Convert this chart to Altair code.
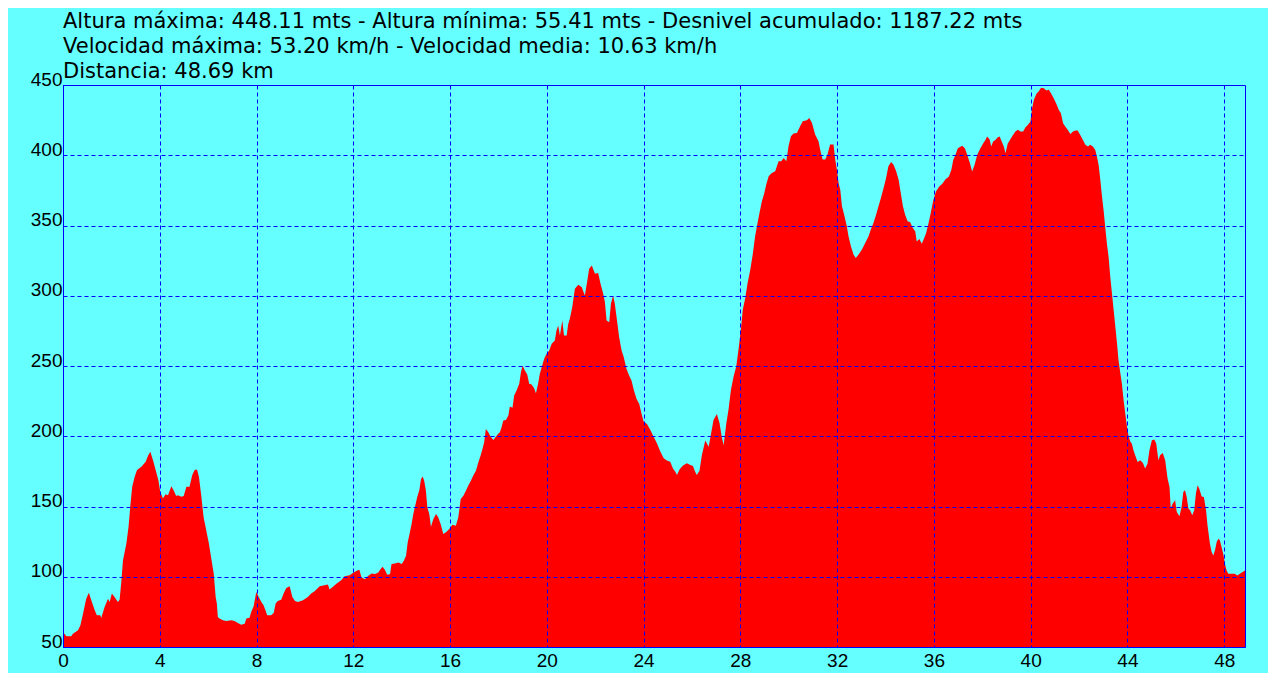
import altair as alt
import pandas as pd

title_lines = [
    "Altura máxima: 448.11 mts - Altura mínima: 55.41 mts - Desnivel acumulado: 1187.22 mts",
    "Velocidad máxima: 53.20 km/h - Velocidad media: 10.63 km/h",
    "Distancia: 48.69 km",
]

distance_km = [
    0.00, 0.14, 0.34, 0.41, 0.62, 0.72, 0.83, 0.96, 1.07, 1.17, 1.31, 1.40, 1.54, 1.58, 1.72, 1.86,
    1.93, 2.02, 2.13, 2.27, 2.34, 2.41, 2.48, 2.62, 2.71, 2.78, 2.86, 2.96, 3.06, 3.24, 3.42, 3.51,
    3.61, 3.72, 3.83, 3.94, 4.02, 4.13, 4.24, 4.34, 4.48, 4.57, 4.68, 4.75, 4.89, 4.99, 5.10, 5.23,
    5.34, 5.44, 5.54, 5.62, 5.72, 5.81, 5.92, 6.03, 6.13, 6.23, 6.31, 6.36, 6.40, 6.47, 6.61, 6.75,
    6.96, 7.09, 7.23, 7.37, 7.51, 7.58, 7.71, 7.78, 7.88, 7.99, 8.09, 8.20, 8.29, 8.37, 8.44, 8.60,
    8.71, 8.79, 8.88, 9.02, 9.12, 9.23, 9.37, 9.48, 9.59, 9.71, 9.92, 10.12, 10.26, 10.40, 10.61, 10.81,
    10.95, 11.02, 11.16, 11.30, 11.50, 11.64, 11.85, 11.98,
    12.14, 12.25, 12.34, 12.48, 12.62, 12.76, 12.90, 13.03, 13.13, 13.21, 13.31, 13.40, 13.52, 13.58,
    13.72, 13.86, 14.00, 14.09, 14.18, 14.25, 14.34, 14.41, 14.48, 14.56, 14.64, 14.73, 14.80, 14.87,
    14.93, 15.00, 15.06, 15.14, 15.21, 15.31, 15.42, 15.51, 15.61, 15.72, 15.83, 15.97, 16.10, 16.24,
    16.34, 16.44, 16.55, 16.66, 16.75, 16.86, 16.96, 17.07, 17.17, 17.26, 17.34, 17.41, 17.48, 17.58,
    17.67, 17.79, 17.90, 17.99, 18.06, 18.13, 18.20, 18.31, 18.41, 18.47, 18.58, 18.65, 18.75, 18.86,
    18.93, 19.00, 19.09, 19.19, 19.27, 19.37, 19.47, 19.55, 19.64, 19.71, 19.81, 19.89, 19.99, 20.10,
    20.20, 20.33, 20.40, 20.47, 20.54, 20.64, 20.71, 20.82, 20.88, 20.95, 21.05, 21.16, 21.30, 21.44,
    21.57, 21.67, 21.75, 21.86, 21.99, 22.12, 22.22, 22.33, 22.40, 22.47, 22.58, 22.65, 22.74, 22.81,
    22.91, 22.99, 23.09, 23.18, 23.29, 23.40, 23.50, 23.60, 23.71, 23.82,
    23.93, 24.00, 24.14, 24.28, 24.41, 24.55, 24.69, 24.83, 24.96, 25.10, 25.21, 25.31, 25.38, 25.49,
    25.63, 25.79, 25.93, 26.04, 26.13, 26.20, 26.31, 26.41, 26.55, 26.69, 26.78, 26.89, 27.03, 27.14,
    27.24, 27.31, 27.42, 27.51, 27.61, 27.72, 27.83, 27.93, 28.02, 28.10, 28.20, 28.30, 28.41, 28.52,
    28.61, 28.71, 28.79, 28.89, 28.99, 29.07, 29.17, 29.30, 29.44, 29.58, 29.69, 29.79, 29.90, 29.99,
    30.09, 30.20, 30.34, 30.47, 30.58, 30.75, 30.85, 30.96, 31.09, 31.23, 31.30, 31.40, 31.51, 31.60,
    31.71, 31.85, 31.92, 31.99, 32.06, 32.13, 32.20, 32.29, 32.40, 32.47, 32.57, 32.68, 32.77, 32.88,
    33.02, 33.16, 33.30, 33.39, 33.50, 33.61, 33.71, 33.81, 33.92, 34.01, 34.12, 34.23, 34.33, 34.44,
    34.54, 34.63, 34.72, 34.81, 34.91, 35.02, 35.13, 35.23, 35.29, 35.40, 35.50, 35.60, 35.68, 35.78,
    35.87, 35.98, 36.09, 36.23,
    36.34, 36.48, 36.62, 36.72, 36.80, 36.89, 36.99, 37.17, 37.28, 37.38, 37.49, 37.58, 37.68, 37.79,
    37.90, 38.04, 38.13, 38.20, 38.30, 38.37, 38.45, 38.54, 38.64, 38.72, 38.82, 38.89, 38.96, 39.05,
    39.16, 39.27, 39.37, 39.47, 39.58, 39.69, 39.78, 39.88, 39.99, 40.06, 40.13, 40.24, 40.33, 40.43,
    40.54, 40.65, 40.75, 40.84, 40.95, 41.06, 41.16, 41.25, 41.34, 41.43, 41.53, 41.64, 41.75, 41.85,
    41.94, 42.05, 42.16, 42.26, 42.37, 42.46, 42.57, 42.67, 42.74, 42.81, 42.88, 42.95, 43.02, 43.08,
    43.15, 43.22, 43.29, 43.36, 43.43, 43.50, 43.57, 43.63, 43.70, 43.77, 43.84, 43.91, 43.98, 44.05,
    44.12, 44.18, 44.25, 44.32, 44.42, 44.53, 44.64, 44.73, 44.83, 44.91, 45.01, 45.11, 45.19, 45.28,
    45.35, 45.46, 45.56, 45.66, 45.74,
    45.79, 45.87, 45.97, 46.04, 46.15, 46.24, 46.31, 46.38, 46.45, 46.52, 46.59, 46.68, 46.76, 46.83,
    46.90, 46.97, 47.07, 47.16, 47.25, 47.31, 47.41, 47.48, 47.55, 47.62, 47.69, 47.76, 47.82, 47.89,
    47.96, 48.03, 48.10, 48.17, 48.31, 48.44, 48.54, 48.65, 48.76, 48.86,
]

altitude_m = [
    60.7, 57.6, 57.6, 59.5, 61.9, 65.4, 73.8, 84.4, 88.7, 83.3, 76.1, 72.6, 72.6, 70.7, 78.5, 84.4,
    82.0, 88.0, 85.6, 82.0, 83.7, 96.3, 111.8, 123.6, 135.5, 149.8, 164.0, 171.0, 175.9, 178.3, 181.8, 185.9,
    189.0, 183.0, 175.9, 168.8, 160.5, 155.7, 158.8, 158.0, 164.5, 161.6, 157.4, 158.0, 157.0, 157.4, 164.0, 164.0,
    172.3, 175.9, 176.4, 171.0, 157.0, 142.6, 133.1, 123.6, 113.0, 102.3, 85.6, 80.9, 71.4, 70.2, 69.0, 68.5,
    69.0, 68.5, 67.1, 65.9, 66.6, 70.2, 70.9, 74.9, 79.0, 89.2, 85.6, 82.0, 79.7, 76.1, 72.6, 72.6,
    74.2, 80.9, 82.8, 83.7, 88.0, 92.0, 93.2, 85.6, 82.8, 82.0, 83.2, 85.6, 88.0, 89.7, 93.2, 94.0,
    94.4, 90.9, 92.8, 95.1, 97.5, 100.4, 101.1, 102.7,
    104.3, 105.0, 99.5, 98.3, 100.7, 102.4, 101.9, 103.1, 105.5, 107.1, 104.8, 101.4, 101.9, 109.0,
    109.5, 110.2, 109.0, 111.4, 115.0, 124.5, 131.6, 137.5, 144.7, 150.6, 156.5, 161.8, 169.6, 171.3,
    168.4, 161.3, 149.4, 144.7, 135.6, 141.1, 144.7, 142.3, 137.5, 130.4, 131.6, 134.0, 137.1, 136.3,
    142.3, 155.3, 157.7, 161.3, 164.8, 168.4, 172.0, 175.5, 181.5, 186.2, 191.0, 195.7, 205.2, 202.9,
    199.8, 197.4, 199.8, 201.7, 202.9, 206.4, 211.2, 211.6, 214.7, 221.1, 220.2, 229.0, 232.5, 237.3,
    245.6, 250.4, 246.8, 243.9, 237.3, 236.8, 234.4, 230.6, 237.3, 244.4, 250.4, 255.1, 258.7, 261.0,
    265.8, 268.2, 275.3, 278.9, 271.7, 282.4, 271.7, 271.7, 279.6, 283.6, 291.9, 305.0, 307.8, 306.2,
    300.2, 310.4, 319.2, 321.6, 315.7, 316.2, 308.5, 301.4, 295.5, 282.4, 281.2, 294.3, 300.2, 294.3,
    281.2, 270.5, 261.0, 256.3, 248.0, 243.2, 239.7, 232.5, 226.6, 223.0,
    215.0, 210.5, 208.8, 204.5, 199.8, 195.0, 189.1, 184.3, 182.7, 181.9, 177.2, 174.8, 172.4, 176.5,
    179.1, 180.8, 179.6, 178.9, 174.8, 172.4, 175.5, 186.7, 196.9, 192.6, 200.9, 211.6, 215.9, 209.3,
    198.6, 193.8, 209.3, 218.8, 233.0, 242.5, 249.6, 262.7, 275.8, 290.0, 298.3, 309.0, 318.5, 330.4,
    342.3, 351.8, 358.9, 367.2, 373.2, 379.1, 385.0, 387.4, 388.6, 395.7, 395.7, 398.1, 395.7, 406.4,
    413.5, 415.4, 415.9, 420.7, 424.2, 424.9, 426.6, 423.0, 414.7, 410.0, 404.0, 396.9, 396.9, 400.5,
    407.6, 407.6, 396.9, 389.8, 380.3, 375.5, 363.7, 357.7, 349.4, 342.3, 335.2, 329.2, 326.8, 329.2,
    332.8, 337.5, 342.3, 347.0, 351.8, 357.7, 363.7, 369.6, 376.7, 382.7, 392.2, 395.2, 393.3, 388.6,
    382.7, 373.2, 363.7, 357.7, 353.0, 352.3, 348.2, 345.8, 338.7, 340.4, 337.0, 341.1, 344.7, 351.8,
    358.9, 368.4, 374.3, 378.0,
    379.6, 382.9, 384.8, 389.5, 396.7, 400.2, 405.0, 406.7, 405.0, 400.2, 394.3, 388.4, 393.1, 400.2,
    404.3, 408.6, 410.9, 413.3, 411.4, 406.2, 409.7, 410.9, 412.8, 413.3, 409.0, 406.2, 401.4, 408.1,
    411.4, 414.5, 416.9, 418.1, 416.9, 416.9, 419.7, 421.6, 424.0, 433.5, 439.4, 443.7, 445.4, 448.1,
    447.7, 446.1, 446.6, 444.2, 440.6, 436.6, 432.3, 429.9, 422.8, 420.4, 418.1, 415.2, 416.9, 417.6,
    417.6, 414.5, 410.9, 407.4, 406.2, 407.4, 406.2, 403.8, 399.0, 393.1, 382.4, 370.5, 359.9, 349.2,
    337.3, 327.8, 313.5, 301.7, 289.8, 277.9, 266.0, 254.2, 245.8, 237.5, 225.9, 216.2, 206.9, 199.8,
    196.0, 194.8, 190.0, 186.5, 181.7, 182.9, 181.0, 177.0, 180.5, 190.0, 197.1, 197.6, 194.8, 182.9,
    186.5, 188.1, 182.9, 169.9, 163.9,
    148.5, 152.0, 154.4, 146.1, 143.0, 149.6, 160.3, 161.5, 156.8, 148.5, 147.3, 143.7, 147.3, 159.1,
    165.1, 162.7, 157.2, 156.8, 147.3, 136.6, 123.5, 117.6, 115.2, 118.8, 124.7, 127.1, 125.9, 121.1,
    116.4, 109.3, 104.5, 102.1, 102.1, 102.1, 100.9, 102.1, 103.3, 104.5,
]

x_ticks = [0, 4, 8, 12, 16, 20, 24, 28, 32, 36, 40, 44, 48]
y_ticks = [50, 100, 150, 200, 250, 300, 350, 400, 450]

df = pd.DataFrame({"km": distance_km, "alt": altitude_m})

BLUE = "#0000FF"
FONT = "Liberation Sans"
TITLE_FONT = "DejaVu Sans"

chart = (
    alt.Chart(df)
    .mark_area(color="#FF0000", clip=True, interpolate="linear")
    .encode(
        x=alt.X(
            "km:Q",
            scale=alt.Scale(domain=[0, 48.86], nice=False, zero=False),
            axis=alt.Axis(
                values=x_ticks,
                title=None,
                grid=True,
                gridColor=BLUE,
                gridDash=[4, 3],
                gridWidth=1,
                gridOpacity=1,
                ticks=False,
                domainColor=BLUE,
                domainWidth=1,
                labelFont=FONT,
                labelFontSize=19,
                labelColor="black",
                labelPadding=4,
                labelFlush=False,
                labelOverlap=False,
                zindex=1,
            ),
        ),
        y=alt.Y(
            "alt:Q",
            scale=alt.Scale(domain=[50, 450], nice=False, zero=False),
            axis=alt.Axis(
                values=y_ticks,
                title=None,
                grid=True,
                gridColor=BLUE,
                gridDash=[4, 3],
                gridWidth=1,
                gridOpacity=1,
                ticks=False,
                domainColor=BLUE,
                domainWidth=1,
                labelFont=FONT,
                labelFontSize=19,
                labelColor="black",
                labelPadding=1,
                labelBaseline="alphabetic",
                labelFlush=False,
                labelOverlap=False,
                zindex=1,
            ),
        ),
        y2=alt.datum(50),
    )
    .properties(
        width=1182,
        height=562,
        autosize=alt.AutoSizeParams(type="none"),
        padding={"left": 55, "top": 77, "right": 23, "bottom": 26},
        background="#66FFFF",
        title=alt.TitleParams(
            text=title_lines,
            anchor="start",
            frame="group",
            font=TITLE_FONT,
            fontSize=21,
            fontWeight="normal",
            color="black",
            lineHeight=25,
            baseline="bottom",
            offset=-33,
        ),
    )
    .configure_view(stroke=BLUE, strokeWidth=1, fill="#66FFFF")
)

chart.save("out.html", embed_options={"renderer": "svg", "actions": False})
